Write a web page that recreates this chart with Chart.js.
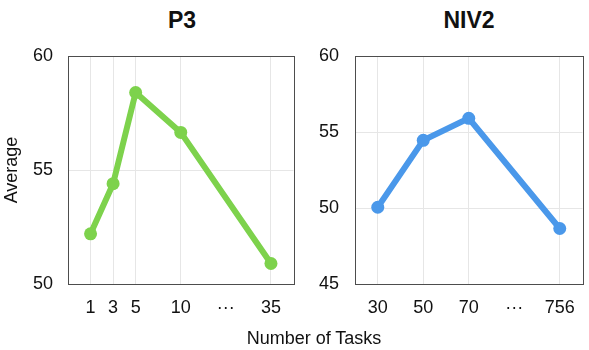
<!DOCTYPE html>
<html>
<head>
<meta charset="utf-8">
<script src="https://cdn.jsdelivr.net/npm/chart.js@4.4.1/dist/chart.umd.min.js"></script>
<style>
  html, body { margin: 0; padding: 0; background: #fff; }
  body { width: 589px; height: 350px; position: relative; overflow: hidden;
         font-family: "Liberation Sans", Arial, sans-serif; color: #111; }
  canvas { position: absolute; top: 0; }
  #left-chart { left: 0; }
  #right-chart { left: 300px; }
  .title { position: absolute; top: 6px; width: 228px; text-align: center;
           font-weight: bold; font-size: 23px; line-height: 28px; }
  #xlabel { position: absolute; left: 200px; width: 228px; top: 327px;
            text-align: center; font-size: 18px; line-height: 22px; }
</style>
</head>
<body>
<div class="title" style="left:68px">P3</div>
<div class="title" style="left:355px">NIV2</div>
<canvas id="left-chart" width="300" height="350"></canvas>
<canvas id="right-chart" width="289" height="350"></canvas>
<div id="xlabel">Number of Tasks</div>
<script>
const p3Tasks = ["1", "3", "5", "10", "···", "35"];
const p3Slots = [1, 2, 3, 5, 7, 9];
const p3Average = [52.2, 54.4, 58.4, 56.65, null, 50.9];
const p3YTicks = [50, 55, 60];

const niv2Tasks = ["30", "50", "70", "···", "756"];
const niv2Slots = [1, 3, 5, 7, 9];
const niv2Average = [50.05, 54.45, 55.9, null, 48.65];
const niv2YTicks = [45, 50, 55, 60];

const GREEN = "rgb(125, 210, 76)";
const BLUE = "rgb(74, 152, 234)";
const FONT = "'Liberation Sans', Arial, sans-serif";

Chart.defaults.font.family = FONT;
Chart.defaults.color = "#111";

const boxPlugin = {
  id: "box",
  beforeDatasetsDraw(chart) {
    const { ctx, chartArea: a } = chart;
    ctx.save();
    ctx.strokeStyle = "#4d4d4d";
    ctx.lineWidth = 1;
    ctx.strokeRect(Math.round(a.left) + 0.5, Math.round(a.top) + 0.5,
      Math.round(a.right - a.left), Math.round(a.bottom - a.top));
    ctx.restore();
  },
};

function makeChart(id, tasks, slots, values, yTicks, color, opts) {
  const points = slots.map((s, i) => ({ x: s, y: values[i] }));
  return new Chart(document.getElementById(id), {
    type: "line",
    data: {
      datasets: [{
        data: points,
        borderColor: color,
        backgroundColor: color,
        borderWidth: 6,
        pointRadius: 6.5,
        pointBorderWidth: 0,
        pointHoverRadius: 6.5,
        spanGaps: true,
        tension: 0,
      }],
    },
    options: {
      responsive: false,
      animation: false,
      layout: { padding: { top: 56, right: opts.right, bottom: 0, left: 0 } },
      plugins: { legend: { display: false }, tooltip: { enabled: false } },
      scales: {
        x: {
          type: "linear",
          min: 0,
          max: 10,
          afterFit: (s) => { s.height = 66; },
          afterBuildTicks: (s) => { s.ticks = slots.map((v) => ({ value: v })); },
          ticks: {
            padding: 13,
            font: { size: 18 },
            color: "#111",
            maxRotation: 0,
            autoSkip: false,
            callback: (v) => tasks[slots.indexOf(v)],
          },
          grid: {
            drawTicks: false,
            color: (c) => (c.tick && c.tick.label === "···" ? "rgba(0,0,0,0)" : "#e6e6e6"),
          },
          border: { display: false },
        },
        y: {
          min: yTicks[0],
          max: yTicks[yTicks.length - 1],
          afterFit: (s) => { s.width = opts.yWidth; },
          afterBuildTicks: (s) => { s.ticks = yTicks.map((v) => ({ value: v })); },
          ticks: { padding: opts.yPad, font: { size: 18 }, color: "#111" },
          grid: { drawTicks: false, color: "#e6e6e6" },
          border: { display: false },
          title: {
            display: !!opts.yTitle,
            text: opts.yTitle || "",
            font: { size: 18 },
            color: "#111",
            padding: { top: 1, bottom: 0 },
          },
        },
      },
    },
    plugins: [boxPlugin],
  });
}

makeChart("left-chart", p3Tasks, p3Slots, p3Average, p3YTicks, GREEN,
  { right: 4, yWidth: 68, yPad: 15, yTitle: "Average" });
makeChart("right-chart", niv2Tasks, niv2Slots, niv2Average, niv2YTicks, BLUE,
  { right: 6, yWidth: 55, yPad: 16 });
</script>
</body>
</html>
